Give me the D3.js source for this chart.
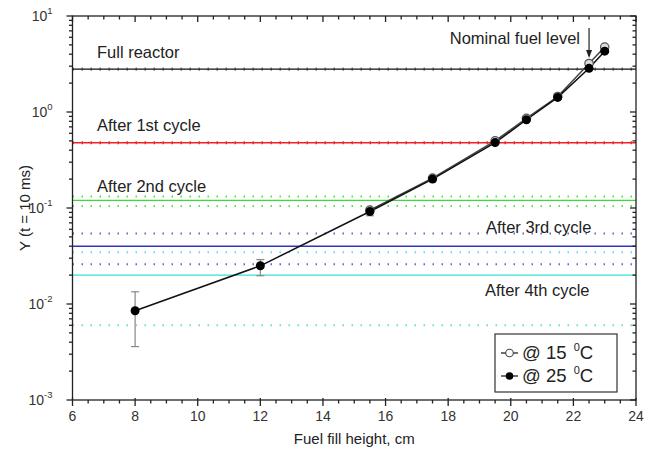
<!DOCTYPE html>
<html><head><meta charset="utf-8">
<script src="https://cdn.jsdelivr.net/npm/d3@7"></script>
<style>body{margin:0;background:#fff;} svg{display:block;font-family:"Liberation Sans",Arial,sans-serif;}</style>
</head><body>
<svg id="c" width="652" height="454"></svg>
<script>
const heights = [8, 12, 15.5, 17.5, 19.5, 20.5, 21.5, 22.5, 23];
const y25 = [0.0085, 0.025, 0.092, 0.2, 0.48, 0.83, 1.42, 2.85, 4.3];
const err25Low = [0.0036, 0.0197, 0.083, 0.19, 0.46, 0.8, 1.38, 2.78, 4.15];
const err25High = [0.0134, 0.029, 0.101, 0.21, 0.5, 0.86, 1.46, 2.92, 4.45];
const heights15 = [15.5, 17.5, 19.5, 20.5, 21.5, 22.5, 23];
const y15 = [0.095, 0.205, 0.5, 0.86, 1.45, 3.2, 4.75];
const levelValues = [2.8, 0.478, 0.12, 0.04, 0.02];
const levelColors = ["#111", "#ee2222", "#33dd33", "#3333bb", "#33e0e0"];
const levelLabels = ["Full reactor", "After 1st cycle", "After 2nd cycle", "After 3rd cycle", "After 4th cycle"];
const boundValues = [0.132, 0.105, 0.0544, 0.0259, 0.0345, 0.006];
const boundColors = ["#55dd55", "#55dd55", "#6666cc", "#6666cc", "#66dddd", "#66dddd"];
const xTicks = [6, 8, 10, 12, 14, 16, 18, 20, 22, 24];
const yTickExp = [1, 0, -1, -2, -3];
const nominalX = 22.5;

const svg = d3.select("#c");
const L = 72.5, R = 636, T = 16, B = 400;
const x = d3.scaleLinear().domain([6, 24]).range([L, R]);
const y = d3.scaleLog().domain([1e-3, 10]).range([B, T]);

// horizontal level lines
const g = svg.append("g");
boundValues.forEach((v, i) => {
  g.append("line").attr("x1", L).attr("x2", R).attr("y1", y(v)).attr("y2", y(v))
    .attr("stroke", boundColors[i]).attr("stroke-width", 2).attr("stroke-dasharray", "1.5 7.5")
    .attr("stroke-linecap", "butt");
});
levelValues.forEach((v, i) => {
  g.append("line").attr("x1", L).attr("x2", R).attr("y1", y(v)).attr("y2", y(v))
    .attr("stroke", levelColors[i]).attr("stroke-width", i === 1 ? 1.6 : (i === 0 ? 1.2 : 1.4));
  if (i < 2) {
    g.append("line").attr("x1", L).attr("x2", R).attr("y1", y(v)).attr("y2", y(v))
      .attr("stroke", levelColors[i]).attr("stroke-width", 3.2).attr("stroke-dasharray", "1.5 7.5")
      .attr("opacity", i === 0 ? 0.5 : 0.9);
  }
});

// labels
const lblPos = [[97, 58], [97, 131], [97, 192], [486, 233], [485, 296]];
levelLabels.forEach((t, i) => {
  svg.append("text").attr("x", lblPos[i][0]).attr("y", lblPos[i][1])
    .attr("font-size", 16.5).attr("fill", "#222").text(t);
});

// lines
const line = d3.line().x(d => x(d[0])).y(d => y(d[1]));
svg.append("path").datum(heights15.map((h, i) => [h, y15[i]])).attr("d", line)
  .attr("fill", "none").attr("stroke", "#444").attr("stroke-width", 1.5);
svg.append("path").datum(heights.map((h, i) => [h, y25[i]])).attr("d", line)
  .attr("fill", "none").attr("stroke", "#111").attr("stroke-width", 1.5);

// error bars
heights.forEach((h, i) => {
  const cx = x(h);
  const eg = svg.append("g").attr("stroke", "#888").attr("stroke-width", 1.2);
  eg.append("line").attr("x1", cx).attr("x2", cx).attr("y1", y(err25Low[i])).attr("y2", y(err25High[i]));
  eg.append("line").attr("x1", cx - 4).attr("x2", cx + 4).attr("y1", y(err25Low[i])).attr("y2", y(err25Low[i]));
  eg.append("line").attr("x1", cx - 4).attr("x2", cx + 4).attr("y1", y(err25High[i])).attr("y2", y(err25High[i]));
});

// markers
heights15.forEach((h, i) => {
  svg.append("circle").attr("cx", x(h)).attr("cy", y(y15[i])).attr("r", 4.2)
    .attr("fill", "#ddd").attr("stroke", "#555").attr("stroke-width", 1.2);
});
heights.forEach((h, i) => {
  svg.append("circle").attr("cx", x(h)).attr("cy", y(y25[i])).attr("r", 4.5).attr("fill", "#000");
});

// axes
const ax = svg.append("g").attr("stroke", "#222").attr("stroke-width", 1.3);
ax.append("rect").attr("x", L).attr("y", T).attr("width", R - L).attr("height", B - T).attr("fill", "none");
for (let v = 6; v <= 24.001; v += 0.5) {
  const major = Math.abs(v - Math.round(v / 2) * 2) < 1e-6;
  const xx = x(v);
  ax.append("line").attr("x1", xx).attr("x2", xx).attr("y1", major ? B - 2 : B).attr("y2", B + (major ? 6 : 3.5));
  ax.append("line").attr("x1", xx).attr("x2", xx).attr("y1", T).attr("y2", T + (major ? 6 : 3.5));
}
xTicks.forEach(v => {
  svg.append("text").attr("x", x(v)).attr("y", B + 21).attr("text-anchor", "middle")
    .attr("font-size", 14).attr("fill", "#333").text(v);
});
for (let e = -3; e <= 1; e++) {
  const base = Math.pow(10, e);
  ax.append("line").attr("x1", L - 6).attr("x2", L).attr("y1", y(base)).attr("y2", y(base));
  ax.append("line").attr("x1", R - 6).attr("x2", R).attr("y1", y(base)).attr("y2", y(base));
  if (e < 1) {
    for (let k = 2; k <= 9; k++) {
      const yy = y(base * k);
      ax.append("line").attr("x1", L - 3.5).attr("x2", L).attr("y1", yy).attr("y2", yy);
      ax.append("line").attr("x1", R - 3.5).attr("x2", R).attr("y1", yy).attr("y2", yy);
    }
  }
}
yTickExp.forEach(e => {
  const t = svg.append("text").attr("x", L - 20).attr("y", y(Math.pow(10, e)) + 5)
    .attr("text-anchor", "end").attr("font-size", 14).attr("fill", "#333");
  t.append("tspan").text("10");
  t.append("tspan").attr("dy", -7).attr("font-size", 9.5).text(e);
});

// axis titles
svg.append("text").attr("x", (L + R) / 2).attr("y", 444).attr("text-anchor", "middle")
  .attr("font-size", 15).attr("fill", "#222").text("Fuel fill height, cm");
svg.append("text").attr("transform", `translate(30,${(T + B) / 2}) rotate(-90)`).attr("text-anchor", "middle")
  .attr("font-size", 15).attr("fill", "#222").text("Y (t = 10 ms)");

// nominal fuel level annotation
svg.append("text").attr("x", 580).attr("y", 44).attr("text-anchor", "end")
  .attr("font-size", 16.5).attr("fill", "#222").text("Nominal fuel level");
const axx = x(nominalX);
svg.append("line").attr("x1", axx).attr("x2", axx).attr("y1", 28).attr("y2", 56)
  .attr("stroke", "#222").attr("stroke-width", 1.2);
svg.append("path").attr("d", `M${axx - 3},${50} L${axx},${58} L${axx + 3},${50} Z`).attr("fill", "#222");

// legend
const lg = svg.append("g");
lg.append("rect").attr("x", 495).attr("y", 334).attr("width", 122).attr("height", 58)
  .attr("fill", "#fff").attr("stroke", "#333").attr("stroke-width", 1.2);
const legendItems = [["@ 15 ", true], ["@ 25 ", false]];
legendItems.forEach((d, i) => {
  const yy = 353 + i * 23;
  lg.append("line").attr("x1", 501).attr("x2", 518).attr("y1", yy).attr("y2", yy).attr("stroke", "#222").attr("stroke-width", 1.3);
  lg.append("circle").attr("cx", 509.5).attr("cy", yy).attr("r", 3.8)
    .attr("fill", d[1] ? "#fff" : "#000").attr("stroke", d[1] ? "#444" : "none").attr("stroke-width", 1.1);
  const t = lg.append("text").attr("x", 522).attr("y", yy + 6).attr("font-size", 18.5).attr("fill", "#222");
  t.append("tspan").text(d[0]);
  t.append("tspan").attr("dx", 2).attr("dy", -8).attr("font-size", 11).text("0");
  t.append("tspan").attr("dy", 8).text("C");
});
</script>
</body></html>
